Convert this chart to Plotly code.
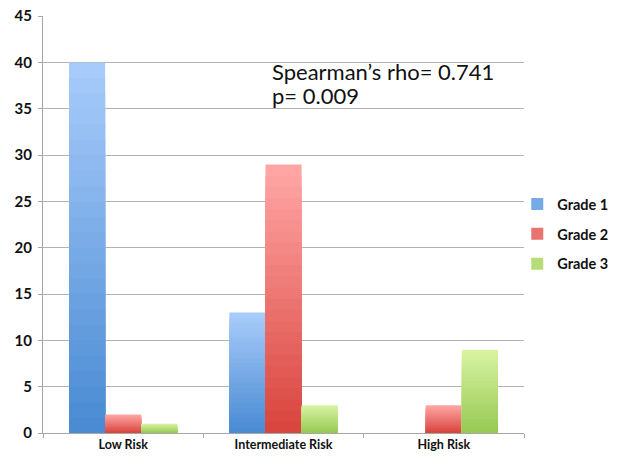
import plotly.graph_objects as go

categories = ["Low Risk", "Intermediate Risk", "High Risk"]
series_names = ["Grade 1", "Grade 2", "Grade 3"]
grade1 = [40, 13, 0]
grade2 = [2, 29, 3]
grade3 = [1, 3, 9]
y_ticks = [0, 5, 10, 15, 20, 25, 30, 35, 40, 45]
annotation_lines = ["Spearman’s rho= 0.741", "p= 0.009"]

series_values = [grade1, grade2, grade3]
top_colors = [(167, 203, 250), (255, 166, 164), (216, 242, 162)]
bottom_colors = [(74, 139, 211), (217, 69, 63), (152, 202, 84)]

N = 24
bar_w = 0.225
offsets = [-0.3375, -0.1125, 0.1125]

fig = go.Figure()
for g, (name, vals) in enumerate(zip(series_names, series_values)):
    for k in range(N):
        t = k / (N - 1)
        c = tuple(round(top_colors[g][i] + (bottom_colors[g][i] - top_colors[g][i]) * t) for i in range(3))
        frac = (N - k) / N
        fig.add_trace(go.Bar(
            x=categories,
            y=[v * frac for v in vals],
            name=name,
            legendgroup=name,
            showlegend=(k == N // 2),
            marker=dict(color=f"rgb{c}", line=dict(width=0)),
            width=bar_w,
            offset=offsets[g],
            hoverinfo="skip",
        ))

for line, yy in zip(annotation_lines, [0.905, 0.846]):
    fig.add_annotation(
        text=line, xref="paper", yref="paper",
        x=0.472, y=yy, xanchor="left", yanchor="top", align="left",
        showarrow=False, font=dict(family="Lato, Carlito, sans-serif", size=22, color="#111111"),
    )

# figure is drawn inside the page body (8px default margin), so size/margins compensate
fig.update_layout(
    width=611, height=451,
    barmode="overlay",
    plot_bgcolor="white", paper_bgcolor="white",
    margin=dict(l=35, r=95, t=8, b=26, autoexpand=False),
    font=dict(family="Lato, 'Open Sans', sans-serif", color="#111111"),
    legend=dict(x=0.986, y=0.477, xanchor="left", yanchor="middle",
                bgcolor="rgba(0,0,0,0)",
                font=dict(size=14.5, family="Lato, sans-serif", weight="bold"),
                tracegroupgap=8, itemwidth=30),
)
fig.update_xaxes(
    type="category", range=[-0.5, 2.5], automargin=False,
    showline=True, linecolor="#a6a6a6", linewidth=1.3,
    ticks="outside", tickson="boundaries", ticklen=4, tickcolor="#a6a6a6",
    showgrid=False, ticklabeloverflow="allow",
    tickfont=dict(size=12.5, family="Lato, sans-serif", weight="bold"),
)
fig.update_yaxes(
    range=[0, 45.02], tickvals=y_ticks, automargin=False,
    showline=True, linecolor="#a6a6a6", linewidth=1.3,
    ticks="outside", ticklen=4, tickcolor="#a6a6a6", ticklabelstandoff=3,
    showgrid=True, gridcolor="#b3b3b3", gridwidth=1.3,
    zeroline=False, ticklabeloverflow="allow",
    tickfont=dict(size=15, family="Lato, sans-serif", weight="bold"),
)

fig.write_html("out.html")
